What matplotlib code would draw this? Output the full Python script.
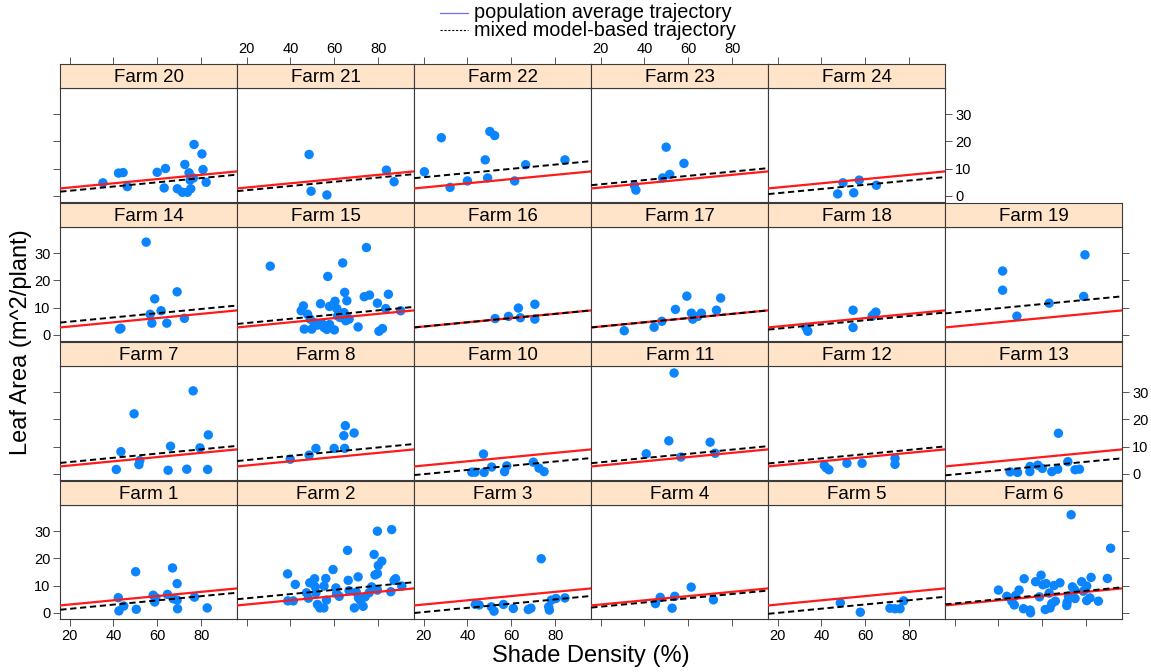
import numpy as np
import matplotlib
matplotlib.use("Agg")
import matplotlib.pyplot as plt
from matplotlib.lines import Line2D

plt.rcParams['font.family'] = ['Liberation Sans', 'DejaVu Sans']

# ---------------- data ----------------
shade_f1 = [42.2, 42.5, 44.7, 50.1, 50.4, 58.1, 58.8, 59.3, 64.6, 66.9, 67.2, 69.0, 69.2, 69.0, 76.9, 82.7]
leaf_f1 = [5.5, 0.6, 2.4, 15.1, 1.2, 6.4, 3.9, 5.5, 6.7, 16.5, 5.1, 10.7, 1.4, 4.6, 5.7, 1.7]

shade_f2 = [38.7, 38.8, 41.3, 42.2, 47.3, 48.2, 48.8, 51.0, 51.3, 51.6, 52.3, 53.4, 55.2, 55.3, 56.1,
            56.4, 59.4, 60.7, 61.0, 62.2, 66.0, 66.3, 66.7, 69.1, 70.8, 70.0, 71.0, 72.0, 73.1, 74.0,
            75.8, 77.0, 78.1, 78.5, 79.6, 79.6, 80.0, 81.6, 79.6, 85.7, 86.1, 87.2, 87.9, 90.7]
leaf_f2 = [14.3, 4.3, 4.3, 10.4, 7.3, 5.3, 11.0, 12.5, 9.5, 7.3, 3.0, 1.7, 1.7, 9.8, 12.6,
           4.6, 15.9, 9.1, 7.0, 6.0, 23.0, 11.9, 8.1, 1.7, 13.2, 7.5, 5.4, 4.2, 2.3, 5.8,
           7.3, 9.5, 21.5, 13.9, 30.1, 14.4, 17.4, 19.0, 8.3, 7.7, 30.7, 11.9, 12.5, 9.8]

shade_f3 = [43.6, 45.3, 50.9, 52.1, 56.4, 60.9, 67.7, 68.9, 73.6, 77.0, 77.3, 78.2, 80.3, 84.4]
leaf_f3 = [3.0, 2.8, 2.1, 0.5, 3.0, 1.5, 1.1, 1.6, 19.9, 2.1, 0.9, 4.6, 5.2, 5.4]

shade_f4 = [45.0, 47.2, 52.6, 53.8, 61.3, 71.4]
leaf_f4 = [3.3, 5.6, 1.6, 6.0, 9.4, 4.7]

shade_f5 = [48.6, 57.7, 71.2, 73.5, 75.8, 77.4]
leaf_f5 = [3.6, 0.1, 1.6, 1.4, 1.4, 4.3]

shade_f6 = [40.0, 43.8, 46.1, 47.2, 47.8, 49.4, 51.4, 51.7, 54.4, 54.6, 56.9, 58.7, 59.4, 60.2, 61.3,
            61.7, 63.1, 63.5, 64.3, 65.3, 65.9, 68.0, 71.1, 71.3, 71.9, 73.1, 73.7, 74.6, 74.9, 77.9,
            78.7, 80.2, 80.2, 81.7, 82.2, 85.5, 89.6, 91.1]
leaf_f6 = [8.3, 6.0, 4.2, 2.8, 6.3, 8.3, 1.4, 12.5, 0.9, -0.1, 11.4, 5.8, 13.8, 10.3, 1.1,
           10.7, 7.2, 1.7, 3.3, 10.0, 4.2, 11.0, 2.6, 3.8, 6.0, 36.2, 9.5, 8.5, 5.2, 11.4,
           7.9, 9.8, 4.4, 5.4, 13.0, 4.2, 12.6, 23.8]

shade_f7 = [41.3, 43.4, 49.4, 51.6, 52.0, 64.9, 66.0, 73.4, 76.3, 79.4, 82.9, 83.2]
leaf_f7 = [1.5, 8.1, 22.1, 3.3, 4.8, 1.2, 10.1, 1.6, 30.6, 9.5, 1.5, 14.3]

shade_f8 = [39.9, 48.5, 51.6, 59.9, 64.7, 64.3, 65.0, 69.0]
leaf_f8 = [5.3, 6.8, 9.3, 9.3, 9.3, 14.0, 17.7, 15.0]

shade_f10 = [42.0, 43.5, 47.3, 47.6, 51.0, 56.9, 57.9, 70.0, 72.6, 74.9]
leaf_f10 = [0.5, 0.5, 7.2, 0.4, 2.4, 0.7, 2.8, 4.2, 2.0, 0.7]

shade_f11 = [40.8, 51.1, 53.5, 56.6, 69.9, 72.2]
leaf_f11 = [7.3, 12.1, 37.2, 6.1, 11.6, 7.5]

shade_f12 = [41.3, 42.2, 43.4, 51.6, 58.5, 73.5, 73.5]
leaf_f12 = [3.0, 2.1, 1.4, 3.8, 3.8, 5.6, 3.4]

shade_f13 = [45.3, 48.7, 54.3, 54.4, 57.9, 60.0, 64.3, 67.0, 67.3, 71.6, 74.9, 76.9]
leaf_f13 = [0.6, 0.4, 0.7, 2.6, 3.1, 1.9, 0.7, 1.6, 14.9, 4.4, 1.4, 1.6]

shade_f14 = [42.8, 43.4, 54.9, 56.7, 57.5, 58.8, 61.7, 64.3, 69.0, 72.3]
leaf_f14 = [2.0, 2.3, 34.2, 7.5, 4.2, 13.2, 8.8, 4.2, 15.8, 6.0]

shade_f15 = [30.8, 44.9, 45.9, 46.3, 47.8, 49.0, 49.7, 50.8, 52.3, 53.7, 54.3, 55.3, 56.6, 57.0,
             57.8, 57.8, 59.3, 60.0, 60.3, 61.1, 61.5, 62.6, 63.8, 64.4, 64.7, 65.2, 65.7, 66.0,
             66.7, 70.8, 73.6, 74.6, 76.0, 79.6, 80.3, 81.9, 83.4, 84.6, 90.2]
leaf_f15 = [25.3, 8.8, 10.6, 2.0, 7.5, 5.7, 2.0, 4.4, 3.5, 11.4, 4.1, 2.6, 1.9, 21.5,
            3.7, 10.4, 10.9, 1.7, 12.3, 9.6, 6.9, 6.3, 26.5, 8.1, 15.6, 5.1, 12.5, 6.3,
            5.7, 2.8, 14.0, 32.2, 14.6, 11.6, 1.2, 2.2, 9.6, 14.9, 8.8]

shade_f16 = [52.6, 58.7, 63.2, 64.1, 70.7, 70.7]
leaf_f16 = [5.9, 6.7, 9.8, 6.2, 11.2, 5.7]

shade_f17 = [30.8, 44.4, 47.9, 54.1, 59.3, 61.4, 62.0, 64.3, 65.9, 72.8, 74.7]
leaf_f17 = [1.4, 2.7, 4.9, 9.3, 14.2, 7.9, 5.7, 6.7, 7.9, 9.0, 13.5]

shade_f18 = [33.0, 33.8, 54.4, 54.4, 63.1, 64.8, 63.9]
leaf_f18 = [2.6, 1.2, 9.0, 2.6, 6.8, 8.3, 7.5]

shade_f19 = [41.9, 41.9, 48.4, 63.1, 78.8, 79.4]
leaf_f19 = [23.5, 16.4, 6.8, 11.6, 14.1, 29.5]

shade_f20 = [35.2, 42.3, 44.4, 46.3, 59.9, 63.7, 63.1, 69.1, 71.4, 72.5, 73.7, 74.4, 74.9, 75.2,
             76.4, 76.7, 80.3, 80.8, 82.2]
leaf_f20 = [4.7, 8.3, 8.5, 3.3, 8.6, 10.0, 2.8, 2.5, 1.2, 11.5, 1.2, 8.4, 5.7, 2.5,
            6.5, 18.9, 15.4, 9.6, 4.9]

shade_f21 = [48.5, 49.4, 56.6, 83.7, 87.2]
leaf_f21 = [15.2, 1.6, 0.2, 9.4, 5.1]

shade_f22 = [20.4, 28.1, 32.1, 40.0, 48.1, 49.2, 50.2, 52.4, 61.5, 66.5, 84.4]
leaf_f22 = [8.8, 21.4, 3.0, 5.4, 13.2, 6.5, 23.7, 22.2, 5.4, 11.4, 13.2]

shade_f23 = [35.4, 36.1, 48.3, 49.9, 51.5, 58.0]
leaf_f23 = [3.7, 2.0, 6.5, 17.9, 7.8, 11.9]

shade_f24 = [47.4, 49.8, 54.7, 57.2, 65.0]
leaf_f24 = [0.6, 4.7, 1.0, 5.7, 3.8]

# population average trajectory (intercept, slope)
pop_intercept = 1.39
pop_slope = 0.0783

# farm-specific (mixed model) intercept shifts, same slope
farm_ids = [1, 2, 3, 4, 5, 6, 7, 8, 10, 11, 12, 13, 14, 15, 16, 17, 18, 19, 20, 21, 22, 23, 24]
mixed_shift = [-1.6, 2.3, -2.8, -0.8, -3.1, 0.4, 1.3, 2.0, -3.2, 1.2, 1.1, -3.3,
               1.8, 1.3, 0.0, 0.0, -0.8, 5.2, -1.2, -1.0, 3.8, 1.2, -2.1]

panel_rows = [[20, 21, 22, 23, 24, None],
              [14, 15, 16, 17, 18, 19],
              [7, 8, 10, 11, 12, 13],
              [1, 2, 3, 4, 5, 6]]

x_ticks = [20, 40, 60, 80]
y_ticks = [0, 10, 20, 30]

farm_data = {}
for fid in farm_ids:
    farm_data[fid] = (globals()['shade_f%d' % fid], globals()['leaf_f%d' % fid])
shift_of = dict(zip(farm_ids, mixed_shift))

# ---------------- layout ----------------
W, H = 1151, 672
fig = plt.figure(figsize=(W / 100, H / 100), dpi=100)

col_left0 = 60.3
col_w = 177.0
row_top0 = 64.0
row_pitch = 139.0
strip_h = 24.0
panel_h = 114.0
xlim = (15.8, 96.4)
ylim = (-2.4, 39.8)

frame_col = '#3a3a3a'
strip_col = '#ffe4c9'
dot_col = '#0a84ff'

def rect(left_px, top_px, w_px, h_px):
    return [left_px / W, 1 - (top_px + h_px) / H, w_px / W, h_px / H]

for i, row in enumerate(panel_rows):
    nvalid = len([f for f in row if f is not None])
    for j, fid in enumerate(row):
        if fid is None:
            continue
        left = col_left0 + j * col_w
        stop = row_top0 + i * row_pitch
        ax = fig.add_axes(rect(left, stop + strip_h, col_w, panel_h))
        sax = fig.add_axes(rect(left, stop, col_w, strip_h))

        # panel
        xs, ys = farm_data[fid]
        ax.scatter(xs, ys, s=46, color=dot_col, edgecolors='none', zorder=3)
        xx = np.array(xlim)
        ax.plot(xx, pop_intercept + pop_slope * xx, color='#ff1a1a', lw=1.6, zorder=4)
        ax.plot(xx, pop_intercept + shift_of[fid] + pop_slope * xx, color='black', lw=1.4,
                linestyle=(0, (3.2, 1.9)), zorder=5)
        ax.set_xlim(*xlim)
        ax.set_ylim(*ylim)
        for sp in ax.spines.values():
            sp.set_color(frame_col)
            sp.set_linewidth(0.8)

        ax.set_xticks(x_ticks)
        ax.set_yticks(y_ticks)
        ax.tick_params(direction='out', length=5, width=0.7, color='#555555',
                       labelsize=10.5, pad=2, labelcolor='black')
        # x axis ticks (bottom row only)
        if i == len(panel_rows) - 1:
            ax.tick_params(axis='x', bottom=True, labelbottom=(j % 2 == 0), top=False, labeltop=False)
        else:
            ax.tick_params(axis='x', bottom=False, labelbottom=False, top=False, labeltop=False)
        # y axis ticks
        left_tick = (j == 0)
        right_tick = (j == nvalid - 1)
        ax.tick_params(axis='y', left=left_tick, labelleft=(left_tick and i % 2 == 1),
                       right=right_tick, labelright=(right_tick and i % 2 == 0))

        # strip
        sax.set_facecolor(strip_col)
        sax.set_xlim(*xlim)
        sax.set_ylim(0, 1)
        sax.set_yticks([])
        for sp in sax.spines.values():
            sp.set_color(frame_col)
            sp.set_linewidth(0.8)
        sax.text(0.5, 0.45, 'Farm %d' % fid, transform=sax.transAxes, ha='center',
                 va='center', fontsize=13.5)
        if i == 0:
            sax.set_xticks(x_ticks)
            sax.tick_params(axis='x', direction='out', length=5, width=0.7, color='#555555',
                            bottom=False, labelbottom=False, top=True,
                            labeltop=(j % 2 == 1), labelsize=10.5, pad=1)
        else:
            sax.set_xticks([])

# axis titles
fig.text(591 / W, 1 - 656 / H, 'Shade Density (%)', ha='center', va='center', fontsize=17)
fig.text(21 / W, 1 - 342 / H, 'Leaf Area (m^2/plant)', ha='center', va='center',
         fontsize=17, rotation=90)

# legend
fig.add_artist(Line2D([440 / W, 468 / W], [1 - 13 / H, 1 - 13 / H], transform=fig.transFigure,
                      color='#6f6fff', lw=0.9))
fig.add_artist(Line2D([440 / W, 468 / W], [1 - 30 / H, 1 - 30 / H], transform=fig.transFigure,
                      color='black', lw=0.8, linestyle=(0, (2, 1.5))))
fig.text(474 / W, 1 - 13 / H, 'population average trajectory', ha='left', va='center', fontsize=14.3)
fig.text(474 / W, 1 - 30 / H, 'mixed model-based trajectory', ha='left', va='center', fontsize=14.3)

fig.savefig('out.png', dpi=100)
